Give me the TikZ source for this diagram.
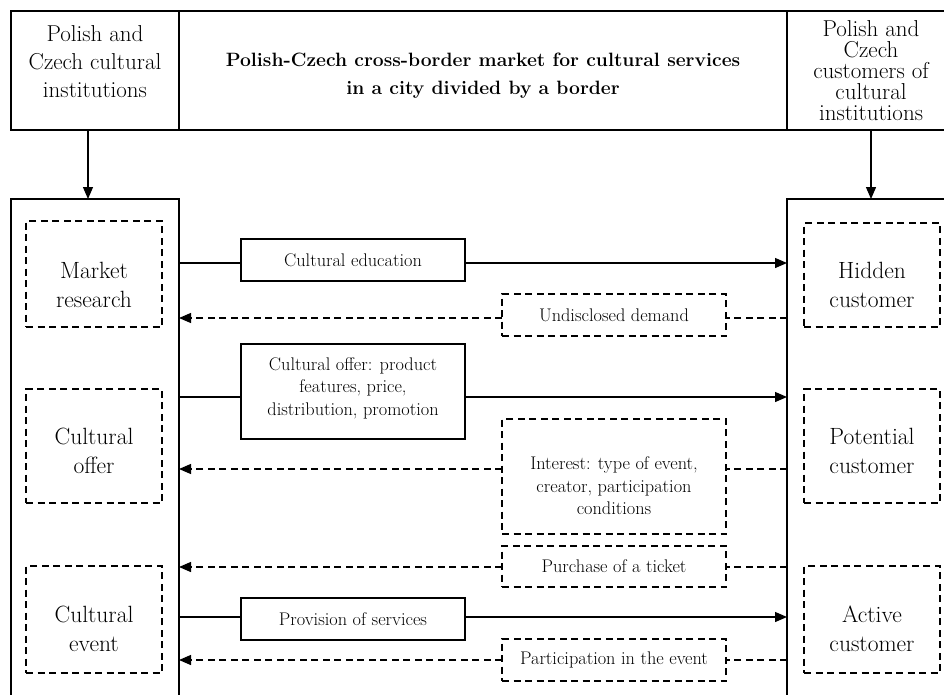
\documentclass[tikz,border=0pt]{standalone}
\usetikzlibrary{arrows.meta,calc}
\begin{document}
\begin{tikzpicture}[x=1pt,y=-1pt,
  box/.style={draw, line width=1.5pt, inner sep=0pt, outer sep=0pt},
  dbox/.style={draw, line width=1.3pt, dash pattern=on 7pt off 4.5pt, inner sep=0pt, outer sep=0pt},
  bigtxt/.style={align=center, font=\fontsize{23.5}{29}\selectfont, inner sep=0pt},
  hltxt/.style={align=center, font=\fontsize{23}{28}\selectfont, inner sep=0pt},
  rtxt/.style={align=center, font=\fontsize{23}{21}\selectfont, inner sep=0pt},
  titletxt/.style={align=center, font=\fontsize{19.3}{28}\selectfont\bfseries, inner sep=0pt},
  smalltxt/.style={align=center, font=\fontsize{18.3}{22.5}\selectfont, inner sep=0pt},
  conn/.style={line width=1.3pt},
  dconn/.style={line width=1.3pt, dash pattern=on 7pt off 4.5pt},
  tip/.style={-{Triangle[length=12pt,width=10pt]}}
]
\useasboundingbox (0,0) rectangle (944,695);

% header
\node[box, minimum width=168pt, minimum height=119pt] (hl) at (95,70.5) {};
\node[box, minimum width=608pt, minimum height=119pt] (ht) at (483,70.5) {};
\node[box, minimum width=168pt, minimum height=119pt] (hr) at (871,70.5) {};
\node[hltxt] (hlt) at (95,62) {Polish and\\Czech cultural\\institutions};
\node[titletxt] (htt) at (483,76) {Polish-Czech cross-border market for cultural services\\in a city divided by a border};
\node[rtxt] (hrt) at (871,71) {Polish and\\Czech\\customers of\\cultural\\institutions};

% big columns
\node[box, minimum width=168pt, minimum height=501pt] (lbig) at (95,449.5) {};
\node[box, minimum width=168pt, minimum height=501pt] (rbig) at (871,449.5) {};

\coordinate (a1) at (88,0);
\coordinate (a2) at (871,0);
\draw[conn, tip] (hl.south -| a1) -- (lbig.north -| a1);
\draw[conn, tip] (hr.south -| a2) -- (rbig.north -| a2);

% left dashed boxes
\node[dbox, minimum width=136pt, minimum height=106pt] (mr) at (94,274) {};
\node[bigtxt] (mrt) at (94,285) {Market\\research};
\node[dbox, minimum width=136pt, minimum height=114pt] (cof) at (94,446) {};
\node[bigtxt] (coft) at (94,451) {Cultural\\offer};
\node[dbox, minimum width=136pt, minimum height=107pt] (cev) at (94,619.5) {};
\node[bigtxt] (cevt) at (94,629) {Cultural\\event};

% right dashed boxes
\node[dbox, minimum width=136pt, minimum height=104pt] (hc) at (872,275) {};
\node[bigtxt] (hct) at (872,285) {Hidden\\customer};
\node[dbox, minimum width=136pt, minimum height=114pt] (pc) at (872,446) {};
\node[bigtxt] (pct) at (872,451) {Potential\\customer};
\node[dbox, minimum width=136pt, minimum height=107pt] (ac) at (872,619.5) {};
\node[bigtxt] (act) at (872,629) {Active\\customer};

% middle solid boxes
\node[box, smalltxt, minimum width=224pt, minimum height=42pt] (ce) at (353,260) {Cultural education};
\node[box, minimum width=224pt, minimum height=95pt] (co) at (353,391.5) {};
\node[smalltxt] (cot) at (353,388) {Cultural offer: product\\features, price,\\distribution, promotion};
\node[box, smalltxt, minimum width=224pt, minimum height=42pt] (ps) at (353,619) {Provision of services};

% middle dashed boxes
\node[dbox, smalltxt, minimum width=224pt, minimum height=42pt] (ud) at (614,315) {Undisclosed demand};
\node[dbox, minimum width=224pt, minimum height=115pt] (it) at (614,476.5) {};
\node[smalltxt] (itt) at (614,486) {Interest: type of event,\\creator, participation\\conditions};
\node[dbox, smalltxt, minimum width=224pt, minimum height=41pt] (pu) at (614,566.5) {Purchase of a ticket};
\node[dbox, smalltxt, minimum width=224pt, minimum height=42pt] (pe) at (614,660) {Participation in the event};

% connector rows
\coordinate (r1) at (0,263);
\coordinate (r2) at (0,318);
\coordinate (r3) at (0,397);
\coordinate (r4) at (0,469);
\coordinate (r5) at (0,567);
\coordinate (r6) at (0,617);
\coordinate (r7) at (0,660);

\draw[conn] (lbig.east |- r1) -- (ce.west |- r1);
\draw[conn, tip] (ce.east |- r1) -- (rbig.west |- r1);
\draw[dconn] (rbig.west |- r2) -- (ud.east |- r2);
\draw[dconn, tip] (ud.west |- r2) -- (lbig.east |- r2);
\draw[conn] (lbig.east |- r3) -- (co.west |- r3);
\draw[conn, tip] (co.east |- r3) -- (rbig.west |- r3);
\draw[dconn] (rbig.west |- r4) -- (it.east |- r4);
\draw[dconn, tip] (it.west |- r4) -- (lbig.east |- r4);
\draw[dconn] (rbig.west |- r5) -- (pu.east |- r5);
\draw[dconn, tip] (pu.west |- r5) -- (lbig.east |- r5);
\draw[conn] (lbig.east |- r6) -- (ps.west |- r6);
\draw[conn, tip] (ps.east |- r6) -- (rbig.west |- r6);
\draw[dconn] (rbig.west |- r7) -- (pe.east |- r7);
\draw[dconn, tip] (pe.west |- r7) -- (lbig.east |- r7);
\end{tikzpicture}
\end{document}
